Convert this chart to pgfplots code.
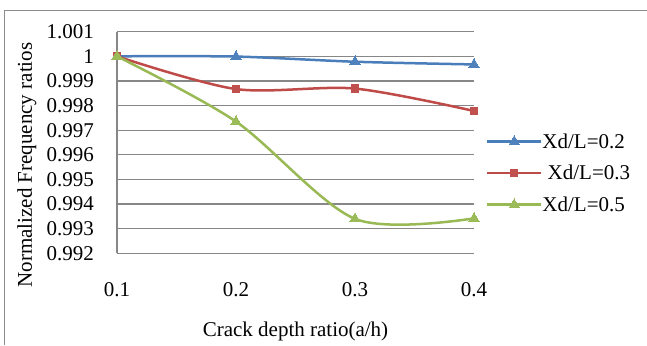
\documentclass[border=0pt]{standalone}
\usepackage{pgfplots}
\pgfplotsset{compat=1.18}
\usepackage{fontspec}
\setmainfont{Liberation Serif}
\definecolor{gridgray}{RGB}{135,135,135}
\definecolor{bordergray}{RGB}{140,140,140}
\definecolor{bline}{RGB}{74,126,187}
\definecolor{bmark}{RGB}{79,129,189}
\definecolor{rline}{RGB}{190,75,72}
\definecolor{rmark}{RGB}{192,80,77}
\definecolor{gline}{RGB}{152,185,84}
\definecolor{gmark}{RGB}{155,187,89}
\begin{document}
\begin{tikzpicture}[x=1pt,y=1pt]
\useasboundingbox (0,0) rectangle (647,345);
\draw[bordergray, line width=1.5pt] (4.5,0) -- (4.5,334.5) -- (647,334.5);
\begin{axis}[
  at={(117pt,91.7pt)}, anchor=south west,
  scale only axis, width=357pt, height=221.6pt,
  xmin=0.1, xmax=0.4, ymin=0.992, ymax=1.001,
  clip=false,
  font=\fontsize{21}{25}\selectfont,
  /pgf/number format/assume math mode=true,
  separate axis lines,
  axis x line*=bottom, axis y line*=left,
  axis line style={draw=gridgray, line width=1.3pt, -},
  ymajorgrids, major grid style={draw=gridgray, line width=1.3pt},
  major tick length=0pt,
  xtick={0.1,0.2,0.3,0.4}, xticklabels={0.1,0.2,0.3,0.4},
  ytick={0.992,0.993,0.994,0.995,0.996,0.997,0.998,0.999,1,1.001},
  yticklabels={0.992,0.993,0.994,0.995,0.996,0.997,0.998,0.999,1,1.001},
  xticklabel style={anchor=base, inner sep=0pt, yshift=-42.7pt},
  yticklabel style={anchor=east, inner sep=0pt, xshift=-23pt},
  xlabel={Crack depth ratio(a/h)},
  xlabel style={at={(axis description cs:0.5,-0.3745)}, anchor=base, inner sep=0pt},
  ylabel={Normalized Frequency ratios},
  ylabel style={at={(axis description cs:-0.2383,0.398)}, anchor=base, rotate=0, inner sep=0pt},
  legend style={at={(axis description cs:1.0335,0.362)}, anchor=west, draw=none, fill=none,
    inner sep=0pt, outer sep=0pt, row sep=15.5pt, nodes={inner sep=0pt}, cells={anchor=west},
    /tikz/every even column/.append style={column sep=6pt}},
  legend image code/.code={\draw[mark repeat=2,mark phase=2,#1] plot coordinates {(0pt,0pt) (27pt,0pt) (54pt,0pt)};},
]
\addplot[bline, line width=2.5pt, smooth, mark=triangle*, mark size=5.8pt,
  mark options={fill=bmark, draw=bmark, line width=0pt, solid}] coordinates {
  (0.1,1) (0.2,0.99999) (0.3,0.99978) (0.4,0.99967)};
\addlegendentry{Xd/L=0.2}
\addplot[rline, line width=2.5pt, smooth, mark=square*, mark size=3.6pt,
  mark options={fill=rmark, draw=rmark, line width=0pt, solid}] coordinates {
  (0.1,1) (0.2,0.99867) (0.3,0.99869) (0.4,0.99778)};
\addlegendentry{\ Xd/L=0.3}
\addplot[gline, line width=2.5pt, smooth, mark=triangle*, mark size=5.8pt,
  mark options={fill=gmark, draw=gmark, line width=0pt, solid}] coordinates {
  (0.1,1) (0.2,0.99735) (0.3,0.99340) (0.4,0.99342)};
\addlegendentry{Xd/L=0.5}
\end{axis}
\end{tikzpicture}
\end{document}
